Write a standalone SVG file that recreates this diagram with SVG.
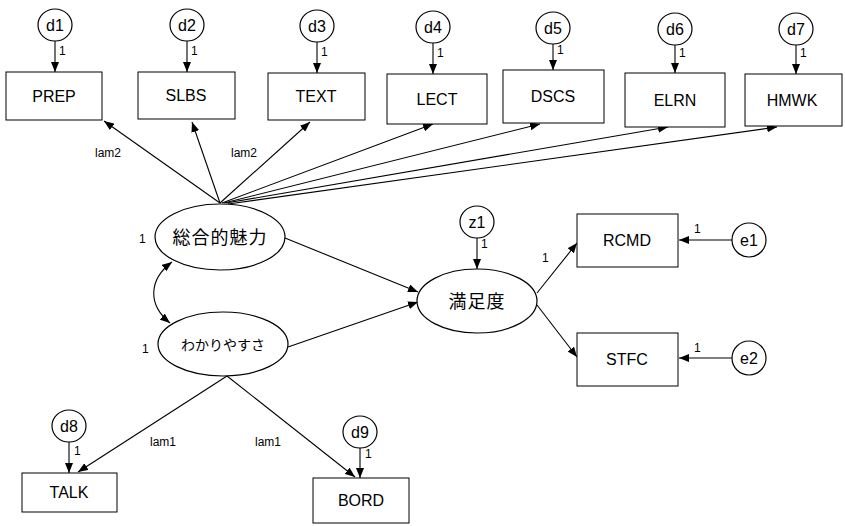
<svg xmlns="http://www.w3.org/2000/svg" width="845" height="526" viewBox="0 0 845 526">
<style>
  .box { fill: #fff; stroke: #000; stroke-width: 1; }
  .ell { fill: #fff; stroke: #000; stroke-width: 1.2; }
  .lbl { font-family: "Liberation Sans", Arial, sans-serif; font-size: 16px; text-anchor: middle; fill: #000; }
  .jp { font-family: "Noto Sans CJK JP", "Noto Sans CJK SC", sans-serif; text-anchor: middle; fill: #000; }
  .sm { font-family: "Liberation Sans", Arial, sans-serif; font-size: 12px; fill: #000; }
  .smc { font-family: "Liberation Sans", Arial, sans-serif; font-size: 12px; fill: #000; text-anchor: middle; }
  .con { fill: none; stroke: #000; stroke-width: 1.1; }
</style>
<defs>
  <marker id="ah" markerWidth="10" markerHeight="8" refX="10" refY="4" orient="auto-start-reverse" markerUnits="userSpaceOnUse">
    <path d="M0,0 L10,4 L0,8 z" fill="#000"/>
  </marker>
</defs>
<rect width="845" height="526" fill="#fff"/>

<g id="connectors">
  <!-- error arrows to indicators -->
  <line class="con" x1="55" y1="41" x2="55" y2="72" marker-end="url(#ah)"/>
  <line class="con" x1="187" y1="41" x2="187" y2="72" marker-end="url(#ah)"/>
  <line class="con" x1="317" y1="42" x2="317" y2="73" marker-end="url(#ah)"/>
  <line class="con" x1="433" y1="43" x2="433" y2="74" marker-end="url(#ah)"/>
  <line class="con" x1="553" y1="44" x2="553" y2="70" marker-end="url(#ah)"/>
  <line class="con" x1="675" y1="45" x2="675" y2="73" marker-end="url(#ah)"/>
  <line class="con" x1="796" y1="45" x2="796" y2="74" marker-end="url(#ah)"/>
  <!-- loadings from 総合的魅力 -->
  <line class="con" x1="220" y1="203" x2="104" y2="121" marker-end="url(#ah)"/>
  <line class="con" x1="220" y1="203" x2="192" y2="122" marker-end="url(#ah)"/>
  <line class="con" x1="220" y1="203" x2="310" y2="122" marker-end="url(#ah)"/>
  <line class="con" x1="222" y1="203" x2="433" y2="124" marker-end="url(#ah)"/>
  <line class="con" x1="224" y1="203" x2="540" y2="124" marker-end="url(#ah)"/>
  <line class="con" x1="226" y1="203" x2="668" y2="127" marker-end="url(#ah)"/>
  <line class="con" x1="228" y1="204" x2="777" y2="127" marker-end="url(#ah)"/>
  <!-- covariance -->
  <path class="con" d="M172,262 C148,280 148,305 170,323" marker-start="url(#ah)" marker-end="url(#ah)"/>
  <!-- structural paths -->
  <line class="con" x1="285" y1="238" x2="418" y2="292" marker-end="url(#ah)"/>
  <line class="con" x1="288" y1="347" x2="418" y2="302" marker-end="url(#ah)"/>
  <line class="con" x1="477" y1="238" x2="477" y2="269" marker-end="url(#ah)"/>
  <line class="con" x1="537" y1="293" x2="577" y2="243" marker-end="url(#ah)"/>
  <line class="con" x1="537" y1="305" x2="577" y2="357" marker-end="url(#ah)"/>
  <line class="con" x1="732" y1="240" x2="679" y2="240" marker-end="url(#ah)"/>
  <line class="con" x1="732" y1="358" x2="679" y2="358" marker-end="url(#ah)"/>
  <!-- loadings from わかりやすさ -->
  <line class="con" x1="227" y1="376" x2="78" y2="472" marker-end="url(#ah)"/>
  <line class="con" x1="227" y1="376" x2="355" y2="477" marker-end="url(#ah)"/>
  <line class="con" x1="69" y1="442" x2="69" y2="473" marker-end="url(#ah)"/>
  <line class="con" x1="360" y1="448" x2="360" y2="478" marker-end="url(#ah)"/>
</g>

<g id="labels">
  <text class="sm" x="59" y="55">1</text>
  <text class="sm" x="191" y="55">1</text>
  <text class="sm" x="321" y="56">1</text>
  <text class="sm" x="437" y="57">1</text>
  <text class="sm" x="557" y="54">1</text>
  <text class="sm" x="679" y="57">1</text>
  <text class="sm" x="800" y="57">1</text>
  <text class="smc" x="108" y="157">lam2</text>
  <text class="smc" x="244" y="157">lam2</text>
  <text class="sm" x="139" y="243">1</text>
  <text class="sm" x="142" y="353">1</text>
  <text class="sm" x="481" y="248">1</text>
  <text class="sm" x="542" y="262">1</text>
  <text class="sm" x="694" y="233">1</text>
  <text class="sm" x="694" y="352">1</text>
  <text class="smc" x="163" y="446">lam1</text>
  <text class="smc" x="268" y="446">lam1</text>
  <text class="sm" x="74" y="455">1</text>
  <text class="sm" x="365" y="458">1</text>
</g>

<g id="d1"><ellipse class="ell" cx="55" cy="25" rx="17" ry="16"/><text class="lbl" x="55" y="31">d1</text></g>
<g id="d2"><ellipse class="ell" cx="187" cy="25" rx="17" ry="16"/><text class="lbl" x="187" y="31">d2</text></g>
<g id="d3"><ellipse class="ell" cx="317" cy="26" rx="17" ry="16"/><text class="lbl" x="317" y="32">d3</text></g>
<g id="d4"><ellipse class="ell" cx="433" cy="27" rx="17" ry="16"/><text class="lbl" x="433" y="33">d4</text></g>
<g id="d5"><ellipse class="ell" cx="553" cy="28" rx="17" ry="16"/><text class="lbl" x="553" y="34">d5</text></g>
<g id="d6"><ellipse class="ell" cx="675" cy="29" rx="17" ry="16"/><text class="lbl" x="675" y="35">d6</text></g>
<g id="d7"><ellipse class="ell" cx="796" cy="29" rx="17" ry="16"/><text class="lbl" x="796" y="35">d7</text></g>

<g id="PREP"><rect class="box" x="6" y="72" width="96" height="48"/><text class="lbl" x="54" y="102">PREP</text></g>
<g id="SLBS"><rect class="box" x="138" y="72" width="97" height="47"/><text class="lbl" x="186" y="101">SLBS</text></g>
<g id="TEXT"><rect class="box" x="268" y="73" width="97" height="47"/><text class="lbl" x="316" y="102">TEXT</text></g>
<g id="LECT"><rect class="box" x="387" y="74" width="100" height="50"/><text class="lbl" x="437" y="105">LECT</text></g>
<g id="DSCS"><rect class="box" x="503" y="70" width="101" height="53"/><text class="lbl" x="553" y="102">DSCS</text></g>
<g id="ELRN"><rect class="box" x="625" y="73" width="100" height="54"/><text class="lbl" x="675" y="106">ELRN</text></g>
<g id="HMWK"><rect class="box" x="745" y="74" width="97" height="52"/><text class="lbl" x="792" y="106">HMWK</text></g>

<g id="F1"><ellipse class="ell" cx="220" cy="237" rx="65" ry="33"/><text class="jp" x="220" y="244" font-size="18" letter-spacing="1">総合的魅力</text></g>
<g id="F2"><ellipse class="ell" cx="223" cy="344" rx="65" ry="32"/><text class="jp" x="223" y="350" font-size="14">わかりやすさ</text></g>
<g id="F3"><ellipse class="ell" cx="477" cy="301" rx="60" ry="32"/><text class="jp" x="477" y="308" font-size="18" letter-spacing="1">満足度</text></g>

<g id="z1"><ellipse class="ell" cx="477" cy="222" rx="17" ry="16"/><text class="lbl" x="477" y="228">z1</text></g>
<g id="RCMD"><rect class="box" x="577" y="214" width="101" height="53"/><text class="lbl" x="627" y="246">RCMD</text></g>
<g id="STFC"><rect class="box" x="577" y="333" width="101" height="53"/><text class="lbl" x="627" y="365">STFC</text></g>
<g id="e1"><ellipse class="ell" cx="749" cy="240" rx="17" ry="17"/><text class="lbl" x="749" y="246">e1</text></g>
<g id="e2"><ellipse class="ell" cx="749" cy="358" rx="17" ry="17"/><text class="lbl" x="749" y="364">e2</text></g>

<g id="d8"><ellipse class="ell" cx="69" cy="426" rx="17" ry="16"/><text class="lbl" x="69" y="432">d8</text></g>
<g id="d9"><ellipse class="ell" cx="360" cy="432" rx="17" ry="16"/><text class="lbl" x="360" y="438">d9</text></g>
<g id="TALK"><rect class="box" x="22" y="473" width="95" height="39"/><text class="lbl" x="69" y="498">TALK</text></g>
<g id="BORD"><rect class="box" x="313" y="478" width="96" height="45"/><text class="lbl" x="361" y="506">BORD</text></g>
</svg>
